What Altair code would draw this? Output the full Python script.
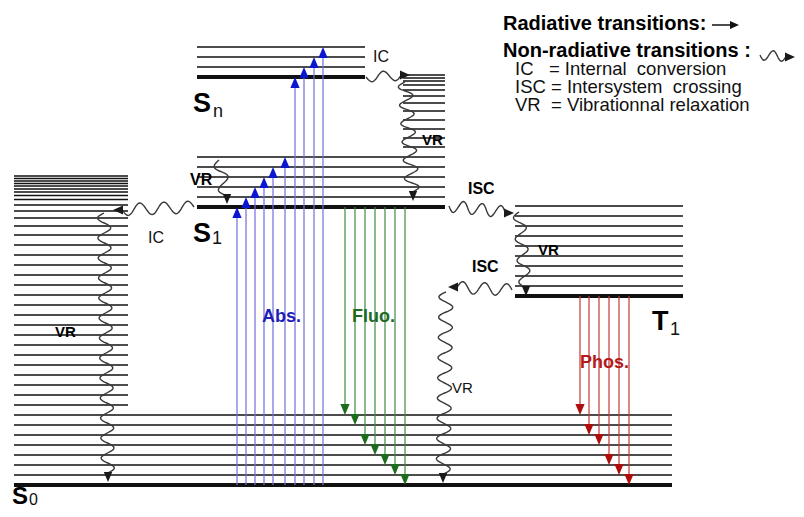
import math
import altair as alt
import pandas as pd

# ---------------- data (image pixel coordinates) ----------------
# energy levels: ground (thick) and vibrational (thin) levels
S0_GROUND = 485
S0_LEVELS = [415, 425, 435, 445, 455, 465, 475]
S0_HOT_LEVELS = [176, 178.5, 181, 183.5, 186, 189, 192, 195.5, 199.5, 205, 211, 218,
                 226, 235, 245, 255, 265, 275, 285, 295, 305, 315, 325, 335, 345,
                 355, 365, 375, 385, 395, 405]
S1_GROUND = 207
S1_LEVELS = [157, 167, 177, 187, 197]
SN_GROUND = 77
SN_LEVELS = [47, 57, 67]
S1_HOT_LEVELS = [75, 78, 81, 85, 90, 96, 103, 111, 120, 129, 138, 147]
T1_GROUND = 296
T1_LEVELS = [206, 216, 226, 236, 246, 256, 266, 276, 286]

# horizontal extents of each group of levels
S0_SPAN = (14, 672)
S0_HOT_SPAN = (14, 128)
S1_SPAN = (197, 445)
SN_SPAN = (197, 365)
S1_HOT_SPAN = (403, 445)
T1_SPAN = (515, 683)

# radiative transitions
ABS_X = [237, 246, 255, 264, 273, 285, 295, 304, 314, 323]
ABS_TO = [207, 197, 187, 177, 167, 157, 77, 67, 57, 47]
FLUO_X = [345, 355, 365, 375, 385, 395, 405]
FLUO_TO = [415, 425, 445, 455, 465, 475, 485]
PHOS_X = [580, 589, 599, 609, 619, 629]
PHOS_TO = [415, 435, 445, 465, 475, 485]

# non-radiative (wavy) transitions: start x, start y, tip x, tip y, periods, amplitude
WAVE_NAMES = ["IC_S1", "VR_S0", "IC_Sn", "VR_Sn", "VR_S1", "ISC_S1T1", "VR_T1",
              "ISC_T1S0", "VR_S0b", "legend"]
WAVE_X0 = [194, 104, 366, 405, 219, 449, 519, 512, 446, 760]
WAVE_Y0 = [207, 213, 77, 82, 160, 206, 212, 290, 292, 55]
WAVE_X1 = [113, 108, 410, 413, 227, 514, 526, 448, 443, 795]
WAVE_Y1 = [210, 482, 75, 201, 204, 213, 296, 287, 483, 57]
WAVE_PERIODS = [3, 13, 1.5, 6, 1.5, 3, 3.5, 2.5, 9, 1.5]
WAVE_AMP = [6, 6.5, 5, 7, 6, 6, 6, 6, 7, 5]

# texts
LABELS_BOLD = ["Radiative transitions:", "Non-radiative transitions :", "ISC", "ISC",
               "VR", "VR", "VR", "VR", "Abs.", "Fluo.", "Phos.", "S", "S", "T", "S"]
LABELS_BOLD_X = [503, 503, 468, 472, 190, 55, 422, 538, 262, 352, 580, 193, 193, 652, 12]
LABELS_BOLD_Y = [30, 57, 194, 272, 185, 337, 145, 255, 322, 322, 368, 112, 242, 330, 504]
LABELS_BOLD_SIZE = [20, 20, 16, 16, 16, 15, 15, 15, 18, 18, 18, 27, 27, 27, 24]
LABELS_BOLD_COLOR = ["black", "black", "black", "black", "black", "black", "black",
                     "black", "#1f1fb8", "#1f6a1f", "#b31b1b", "black", "black",
                     "black", "black"]

LABELS_NORMAL = ["IC\u00a0\u00a0 = Internal\u00a0 conversion",
                 "ISC = Intersystem\u00a0 crossing",
                 "VR\u00a0 = Vibrationnal relaxation",
                 "IC", "IC", "VR", "n", "1", "1", "0"]
LABELS_NORMAL_X = [515, 515, 515, 373, 148, 452, 213, 212, 670, 29]
LABELS_NORMAL_Y = [75, 93, 111, 62, 243, 393, 117, 244, 335, 505]
LABELS_NORMAL_SIZE = [18.5, 18.5, 18.5, 16, 16, 15, 18, 18, 18, 16]

# legend radiative arrow
LEGEND_ARROW = (712, 739, 25)

# ---------------- build tables ----------------
THIN, THICK = 1.3, 4.0
level_rows = []


def add_levels(levels, span, w):
    for y in levels:
        level_rows.append({"x": span[0], "x2": span[1], "y": y, "w": w})


add_levels(S0_HOT_LEVELS, S0_HOT_SPAN, THIN)
add_levels(S0_LEVELS, S0_SPAN, THIN)
add_levels([S0_GROUND], S0_SPAN, THICK)
add_levels(S1_LEVELS, S1_SPAN, THIN)
add_levels([S1_GROUND], S1_SPAN, THICK)
add_levels(SN_LEVELS, SN_SPAN, THIN)
add_levels([SN_GROUND], SN_SPAN, THICK)
add_levels(S1_HOT_LEVELS, S1_HOT_SPAN, THIN)
add_levels(T1_LEVELS, T1_SPAN, THIN)
add_levels([T1_GROUND], T1_SPAN, THICK)
levels_df = pd.DataFrame(level_rows)

HEAD_UP = "M -0.42 1 L 0.42 1 L 0 0 Z"
HEAD_DOWN = "M -0.42 -1 L 0.42 -1 L 0 0 Z"
HEAD_LEFT = "M 1 -0.45 L 1 0.45 L 0 0 Z"
HEAD_RIGHT = "M -1 -0.45 L -1 0.45 L 0 0 Z"

shaft_rows, head_rows = [], []
for x, t in zip(ABS_X, ABS_TO):
    shaft_rows.append({"x": x, "y": S0_GROUND, "y2": t + 5, "color": "#6f6fdc"})
    head_rows.append({"x": x, "y": t, "shape": HEAD_UP, "color": "#0b16d0", "s": 484})
for x, t in zip(FLUO_X, FLUO_TO):
    shaft_rows.append({"x": x, "y": S1_GROUND, "y2": t - 5, "color": "#3f8a3f"})
    head_rows.append({"x": x, "y": t, "shape": HEAD_DOWN, "color": "#1d6b1d", "s": 484})
for x, t in zip(PHOS_X, PHOS_TO):
    shaft_rows.append({"x": x, "y": T1_GROUND, "y2": t - 5, "color": "#c23a3a"})
    head_rows.append({"x": x, "y": t, "shape": HEAD_DOWN, "color": "#b00c0c", "s": 484})
shafts_df = pd.DataFrame(shaft_rows)

wave_rows = []
HEAD_LEN = 10
for i, name in enumerate(WAVE_NAMES):
    x0, y0, x1, y1 = WAVE_X0[i], WAVE_Y0[i], WAVE_X1[i], WAVE_Y1[i]
    dx, dy = x1 - x0, y1 - y0
    L = math.hypot(dx, dy)
    ux, uy = dx / L, dy / L
    ex, ey = x1 - ux * (HEAD_LEN - 1), y1 - uy * (HEAD_LEN - 1)
    ddx, ddy = ex - x0, ey - y0
    L2 = math.hypot(ddx, ddy)
    px, py = -ddy / L2, ddx / L2
    n = max(int(L2), 10)
    for k in range(n + 1):
        t = k / n
        off = WAVE_AMP[i] * math.sin(2 * math.pi * WAVE_PERIODS[i] * t)
        wave_rows.append({"wid": name, "o": k, "x": x0 + ddx * t + px * off,
                          "y": y0 + ddy * t + py * off})
    if abs(dx) > abs(dy):
        shape = HEAD_RIGHT if dx > 0 else HEAD_LEFT
    else:
        shape = HEAD_DOWN if dy > 0 else HEAD_UP
    head_rows.append({"x": x1, "y": y1, "shape": shape, "color": "#1a1a1a",
                      "s": (2 * HEAD_LEN) ** 2})
waves_df = pd.DataFrame(wave_rows)

lx0, lx1, ly = LEGEND_ARROW
legend_rule_df = pd.DataFrame([{"x": lx0, "x2": lx1 - 8, "y": ly}])
head_rows.append({"x": lx1, "y": ly, "shape": HEAD_RIGHT, "color": "#111111", "s": 324})
heads_df = pd.DataFrame(head_rows)

bold_df = pd.DataFrame({"text": LABELS_BOLD, "x": LABELS_BOLD_X, "y": LABELS_BOLD_Y,
                        "size": LABELS_BOLD_SIZE, "color": LABELS_BOLD_COLOR})
normal_df = pd.DataFrame({"text": LABELS_NORMAL, "x": LABELS_NORMAL_X,
                          "y": LABELS_NORMAL_Y, "size": LABELS_NORMAL_SIZE})

# ---------------- chart ----------------
XS = alt.Scale(domain=[8, 796], nice=False, zero=False)
YS = alt.Scale(domain=[8, 509], nice=False, zero=False, reverse=True)
X = alt.X("x:Q", scale=XS, axis=None)
Y = alt.Y("y:Q", scale=YS, axis=None)

levels = alt.Chart(levels_df).mark_rule(color="#111111").encode(
    x=X, x2="x2:Q", y=Y, strokeWidth=alt.StrokeWidth("w:Q", scale=None))

shafts = alt.Chart(shafts_df).mark_rule(strokeWidth=1.2).encode(
    x=X, y=Y, y2="y2:Q", color=alt.Color("color:N", scale=None))

waves = alt.Chart(waves_df).mark_line(color="#3a3a3a", strokeWidth=1.4).encode(
    x=X, y=Y, detail="wid:N", order="o:Q")

legend_rule = alt.Chart(legend_rule_df).mark_rule(color="#111111", strokeWidth=1.5).encode(
    x=X, x2="x2:Q", y=Y)

heads = alt.Chart(heads_df).mark_point(filled=True, opacity=1).encode(
    x=X, y=Y, shape=alt.Shape("shape:N", scale=None),
    color=alt.Color("color:N", scale=None), size=alt.Size("s:Q", scale=None))

text_bold = alt.Chart(bold_df).mark_text(
    align="left", baseline="alphabetic", font="Liberation Sans", fontWeight="bold").encode(
    x=X, y=Y, text="text:N", size=alt.Size("size:Q", scale=None),
    color=alt.Color("color:N", scale=None))

text_normal = alt.Chart(normal_df).mark_text(
    align="left", baseline="alphabetic", font="Liberation Sans", color="#111111").encode(
    x=X, y=Y, text="text:N", size=alt.Size("size:Q", scale=None))

chart = alt.layer(levels, shafts, waves, legend_rule, heads, text_bold, text_normal).properties(
    width=788, height=501, padding=0, background="white",
    autosize=alt.AutoSizeParams(type="none")
).configure_view(strokeWidth=0)

chart.save("out.html", embed_options={"renderer": "svg", "actions": False})
